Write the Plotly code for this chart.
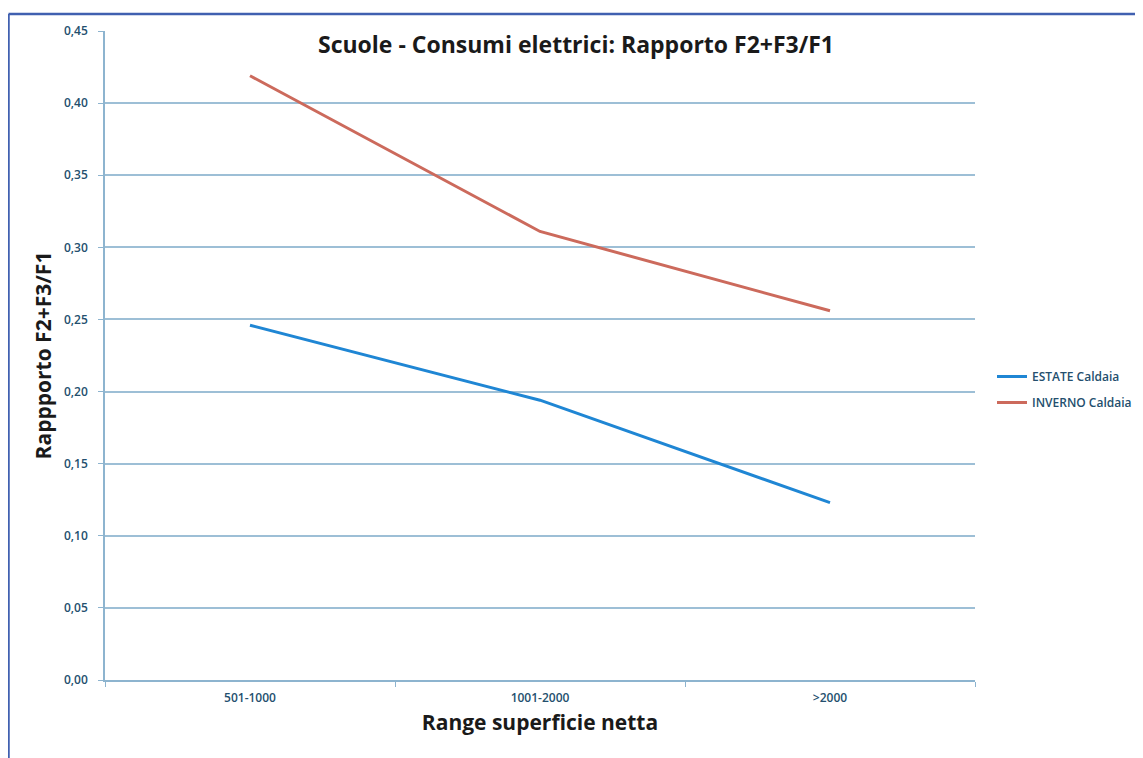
import plotly.graph_objects as go

categories = ["501-1000", "1001-2000", ">2000"]
estate_caldaia = [0.246, 0.194, 0.123]
inverno_caldaia = [0.419, 0.311, 0.256]
y_ticks = [0.00, 0.05, 0.10, 0.15, 0.20, 0.25, 0.30, 0.35, 0.40, 0.45]

# page body has an 8px margin; figure sized to fit the 1143x758 window
OFF = 8
W, H = 1143 - OFF, 758 - OFF
L, R, T, B = 97, 168, 23, 78
pw, ph = W - L - R, H - T - B

def px_x(sx):
    return (sx - OFF - L) / pw

def px_y(sy):
    return (H - B - (sy - OFF)) / ph

fig = go.Figure()
fig.add_trace(go.Scatter(x=categories, y=estate_caldaia, mode="lines", name="ESTATE Caldaia",
                         line=dict(color="#1f86d4", width=3), legendgroup="a"))
fig.add_trace(go.Scatter(x=categories, y=inverno_caldaia, mode="lines", name="INVERNO Caldaia",
                         line=dict(color="#cc6a5c", width=3), legendgroup="b"))

fig.update_layout(
    width=W, height=H,
    margin=dict(l=L, r=R, t=T, b=B, autoexpand=False),
    paper_bgcolor="white", plot_bgcolor="white",
    separators=",.",
    font=dict(family="Open Sans, sans-serif", color="#2c5878"),
    title=dict(text="<b>Scuole - Consumi elettrici: Rapporto F2+F3/F1</b>",
               x=px_x(576), xref="paper", xanchor="center",
               y=1 - (45 - OFF) / H, yref="container", yanchor="middle",
               font=dict(size=23, color="#1a1a1a", family="Open Sans, sans-serif")),
    xaxis=dict(
        type="category", range=[-0.5, 2.5],
        showgrid=False, showline=True, linecolor="#8db4cf", linewidth=1.5,
        ticks="outside", tickson="boundaries", ticklen=5, tickcolor="#8db4cf",
        ticklabelstandoff=6,
        tickfont=dict(size=12, color="#244f6e", weight=600),
        title=dict(text="<b>Range superficie netta</b>", standoff=10,
                   font=dict(size=21, color="#1a1a1a")),
    ),
    yaxis=dict(
        range=[0, 0.45], tickvals=y_ticks, tickformat=".2f",
        showgrid=True, gridcolor="#9dbfd6", gridwidth=1.5,
        showline=True, linecolor="#8db4cf", linewidth=1.5,
        ticks="outside", ticklen=5, tickcolor="#8db4cf",
        ticklabelstandoff=8,
        tickfont=dict(size=12, color="#244f6e", weight=600), zeroline=False,
        title=dict(text="<b>Rappporto F2+F3/F1</b>", standoff=7,
                   font=dict(size=21, color="#1a1a1a")),
    ),
    legend=dict(x=px_x(992), y=px_y(362), xanchor="left", yanchor="top",
                font=dict(size=12, color="#244f6e", weight=600), tracegroupgap=7,
                bgcolor="rgba(0,0,0,0)"),
    shapes=[
        dict(type="line", xref="paper", yref="paper", x0=px_x(8.5), x1=px_x(1150),
             y0=px_y(14), y1=px_y(14), line=dict(color="#4060b0", width=2.5)),
        dict(type="line", xref="paper", yref="paper", x0=px_x(8.5), x1=px_x(8.5),
             y0=px_y(14), y1=px_y(765), line=dict(color="#4060b0", width=2.5)),
    ],
)

fig.write_html("out.html")
